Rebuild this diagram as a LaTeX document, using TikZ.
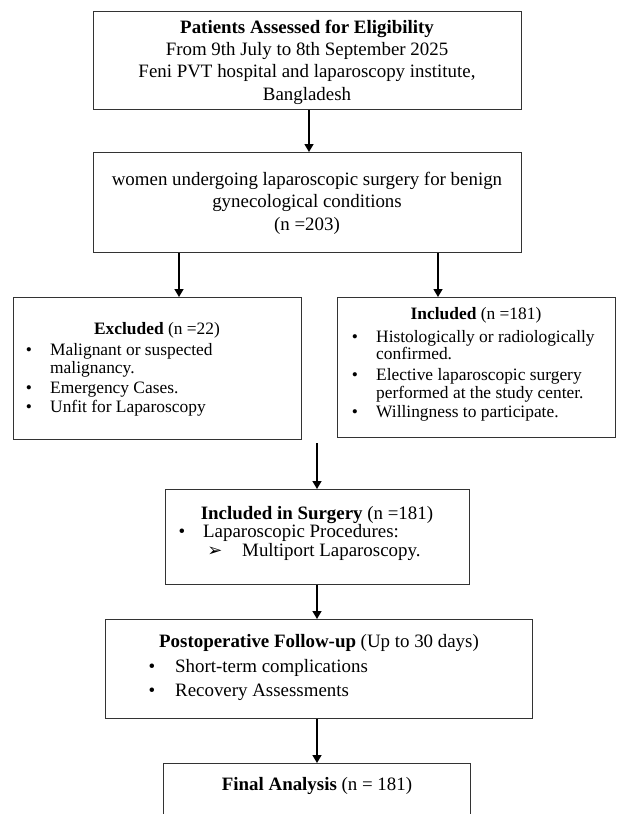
\documentclass[tikz,border=0pt]{standalone}
\usepackage{fontspec}
\setmainfont{Liberation Serif}
\newfontfamily\dejavu{DejaVu Sans}
\usetikzlibrary{arrows.meta}
\tikzset{
  box/.style={draw=black!80, line width=1.3pt, fill=white, anchor=north west, inner sep=0pt},
  big/.style={font=\fontsize{18.9}{22}\selectfont, inner sep=0pt},
  med/.style={font=\fontsize{17.4}{20}\selectfont, inner sep=0pt},
  arr/.style={-{Triangle[length=8pt,width=9pt]}, line width=1.4pt, black},
}
\begin{document}
\begin{tikzpicture}[x=1pt,y=-1pt]
\useasboundingbox[fill=white] (0,0) rectangle (616,814);

% boxes
\node[box, minimum width=428pt, minimum height=98pt] (b1) at (93,11) {};
\node[box, minimum width=428pt, minimum height=100pt] (b2) at (93,152) {};
\node[box, minimum width=288pt, minimum height=142pt] (ex) at (13,297) {};
\node[box, minimum width=278pt, minimum height=140pt] (in) at (337,297) {};
\node[box, minimum width=304pt, minimum height=95pt] (su) at (165,489) {};
\node[box, minimum width=427pt, minimum height=99pt] (po) at (105,619) {};
\node[box, minimum width=307pt, minimum height=80pt] (fi) at (163,763) {};

% box 1 text
\node[big, anchor=mid] (t11) at (307,31) {\textbf{Patients Assessed for Eligibility}};
\node[big, anchor=mid] (t12) at (307,53) {From 9th July to 8th September 2025};
\node[big, anchor=mid] (t13) at (307,75) {Feni PVT hospital and laparoscopy institute,};
\node[big, anchor=mid] (t14) at (307,98) {Bangladesh};

% box 2 text
\node[big, anchor=mid] (t21) at (307,183) {women undergoing laparoscopic surgery for benign};
\node[big, anchor=mid] (t22) at (307,205) {gynecological conditions};
\node[big, anchor=mid] (t23) at (307,228) {(n =203)};

% excluded
\node[med, anchor=mid] (e0) at (157,332) {\textbf{Excluded} (n =22)};
\node[med, anchor=mid] (eb1) at (29,353) {\textbullet};
\node[med, anchor=mid west] (e1) at (50,353) {Malignant or suspected};
\node[med, anchor=mid west] (e2) at (50,371) {malignancy.};
\node[med, anchor=mid] (eb2) at (29,391) {\textbullet};
\node[med, anchor=mid west] (e3) at (50,391) {Emergency Cases.};
\node[med, anchor=mid] (eb3) at (29,410) {\textbullet};
\node[med, anchor=mid west] (e4) at (50,410) {Unfit for Laparoscopy};

% included
\node[med, anchor=mid] (i0) at (476,317) {\textbf{Included} (n =181)};
\node[med, anchor=mid] (ib1) at (355,340) {\textbullet};
\node[med, anchor=mid west] (i1) at (376,340) {Histologically or radiologically};
\node[med, anchor=mid west] (i2) at (376,357) {confirmed.};
\node[med, anchor=mid] (ib2) at (355,378) {\textbullet};
\node[med, anchor=mid west] (i3) at (376,378) {Elective laparoscopic surgery};
\node[med, anchor=mid west] (i4) at (376,396) {performed at the study center.};
\node[med, anchor=mid] (ib3) at (355,415) {\textbullet};
\node[med, anchor=mid west] (i5) at (376,415) {Willingness to participate.};

% surgery
\node[big, anchor=mid] (s0) at (317,517) {\textbf{Included in Surgery} (n =181)};
\node[big, anchor=mid] (sb1) at (182,535) {\textbullet};
\node[big, anchor=mid west] (s1) at (203,535) {Laparoscopic Procedures:};
\node[font=\dejavu\fontsize{18}{18}\selectfont, inner sep=0pt, text height=6pt, text depth=1pt, anchor=mid] (sb2) at (215,554) {➢};
\node[big, anchor=mid west] (s2) at (242,554) {Multiport Laparoscopy.};

% postoperative
\node[big, anchor=mid] (p0) at (319,645) {\textbf{Postoperative Follow-up} (Up to 30 days)};
\node[big, anchor=mid] (pb1) at (152,670) {\textbullet};
\node[big, anchor=mid west] (p1) at (175,670) {Short-term complications};
\node[big, anchor=mid] (pb2) at (152,694) {\textbullet};
\node[big, anchor=mid west] (p2) at (175,694) {Recovery Assessments};

% final
\node[big, anchor=mid] (f0) at (317,788) {\textbf{Final Analysis} (n = 181)};

% connectors
\draw[arr] ([xshift=216pt]b1.south west) coordinate (c1) -- (c1 |- b2.north);
\draw[arr] ([xshift=86pt]b2.south west) coordinate (c2) -- (c2 |- ex.north);
\draw[arr] ([xshift=345pt]b2.south west) coordinate (c3) -- (c3 |- in.north);
\coordinate (c4) at (317,443);
\draw[arr] (c4) -- (c4 |- su.north);
\draw[arr] ([xshift=152pt]su.south west) coordinate (c5) -- (c5 |- po.north);
\draw[arr] (c5 |- po.south) coordinate (c6) -- (c6 |- fi.north);
\end{tikzpicture}
\end{document}
